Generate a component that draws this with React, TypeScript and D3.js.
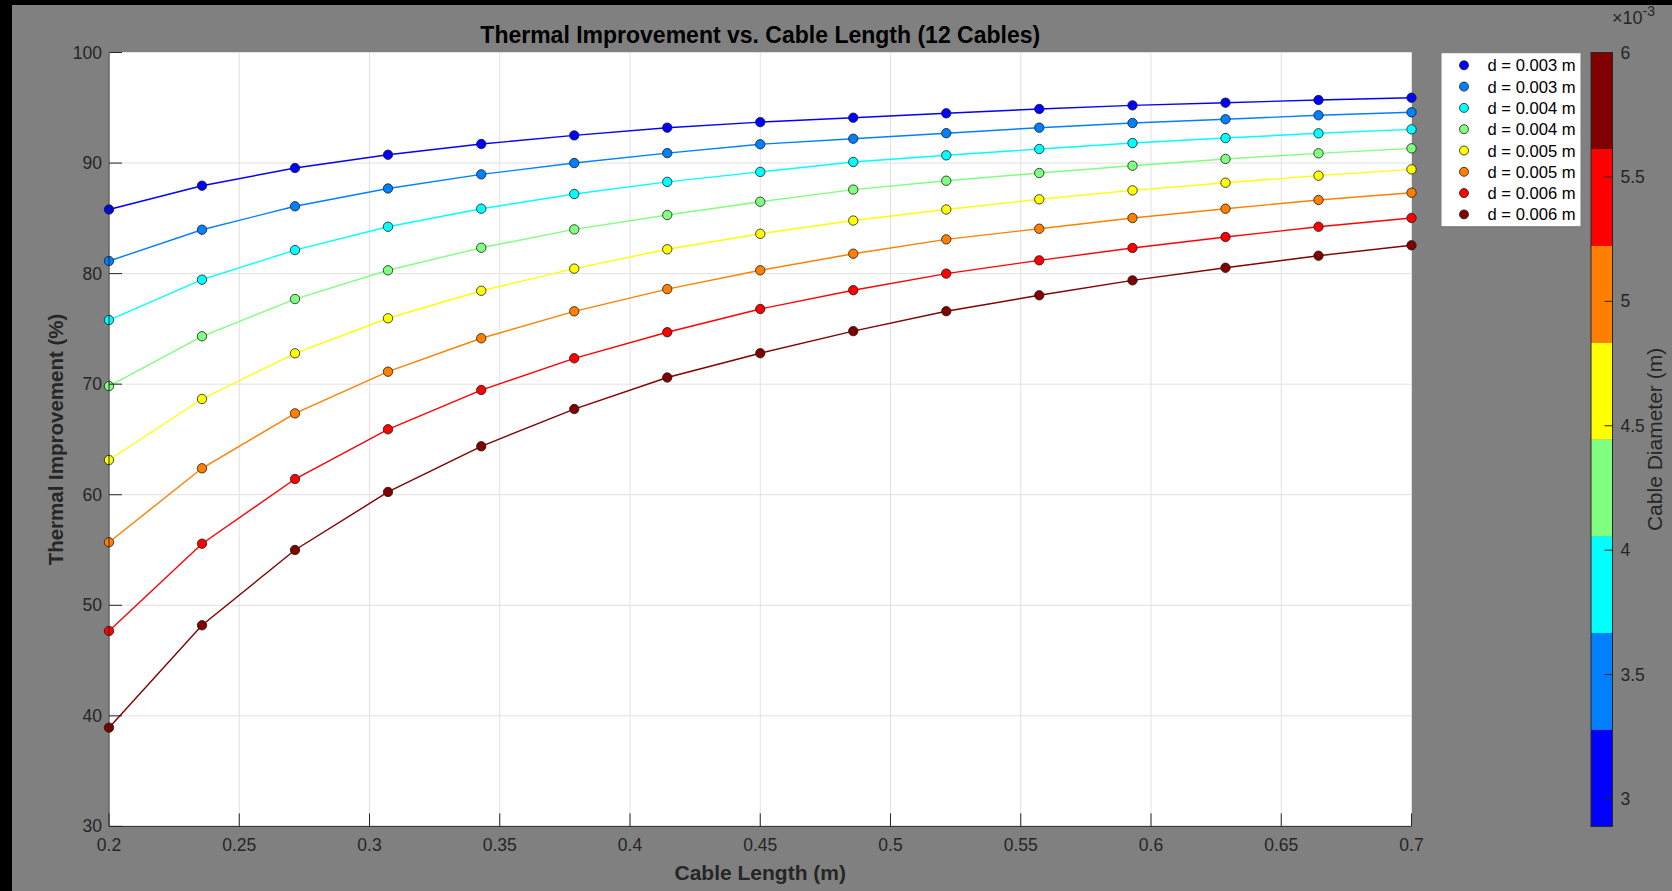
import React, { useEffect, useRef } from "react";
import * as d3 from "d3";

const W = 1672;
const H = 891;

// plot box
const PL = 109;
const PR = 1411.5;
const PT = 52.5;
const PB = 826.4;

const FONT = "'Liberation Sans', Arial, Helvetica, sans-serif";
const INK = "#262626";

// ── Data ────────────────────────────────────────────────────────────────
const cableLengths = [0.2, 0.2357, 0.2714, 0.3071, 0.3429, 0.3786, 0.4143, 0.45, 0.4857, 0.5214, 0.5571, 0.5929, 0.6286, 0.6643, 0.7];

const d003a = [85.8, 87.95, 89.55, 90.75, 91.72, 92.5, 93.2, 93.7, 94.1, 94.5, 94.89, 95.22, 95.46, 95.7, 95.91];
const d003b = [81.14, 83.97, 86.09, 87.7, 88.98, 90.0, 90.9, 91.7, 92.2, 92.7, 93.2, 93.62, 93.96, 94.32, 94.59];
const d004a = [75.8, 79.45, 82.13, 84.24, 85.87, 87.2, 88.3, 89.2, 90.1, 90.7, 91.27, 91.81, 92.26, 92.69, 93.05];
const d004b = [69.83, 74.33, 77.7, 80.3, 82.34, 84.0, 85.3, 86.5, 87.6, 88.4, 89.1, 89.76, 90.37, 90.88, 91.33];
const d005a = [63.14, 68.66, 72.79, 75.96, 78.45, 80.45, 82.2, 83.6, 84.8, 85.8, 86.72, 87.53, 88.22, 88.86, 89.43];
const d005b = [55.7, 62.39, 67.36, 71.13, 74.15, 76.59, 78.6, 80.3, 81.8, 83.1, 84.06, 85.03, 85.87, 86.66, 87.32];
const d006a = [47.67, 55.57, 61.42, 65.92, 69.47, 72.34, 74.7, 76.8, 78.5, 80.0, 81.2, 82.32, 83.31, 84.24, 85.03];
const d006b = [38.93, 48.19, 55.0, 60.25, 64.38, 67.75, 70.6, 72.8, 74.8, 76.6, 78.04, 79.39, 80.53, 81.62, 82.56];

const seriesValues = [d003a, d003b, d004a, d004b, d005a, d005b, d006a, d006b];
const seriesLabels = ["d = 0.003 m", "d = 0.003 m", "d = 0.004 m", "d = 0.004 m", "d = 0.005 m", "d = 0.005 m", "d = 0.006 m", "d = 0.006 m"];
const seriesColors = ["#0000ff", "#0080ff", "#00ffff", "#80ff80", "#ffff00", "#ff8000", "#ff0000", "#800000"];

const xTicks = [0.2, 0.25, 0.3, 0.35, 0.4, 0.45, 0.5, 0.55, 0.6, 0.65, 0.7];
const yTicks = [30, 40, 50, 60, 70, 80, 90, 100];
const cbDomain = [2.89, 6.0]; // ×10^-3 m
const cbTicks = [3, 3.5, 4, 4.5, 5, 5.5, 6];

const App = () => {
    const svgRef = useRef<SVGSVGElement>(null);

    useEffect(() => {
        if (!svgRef.current) return;
        const svg = d3.select(svgRef.current);
        svg.selectAll("*").remove();

        // ── Figure background ────────────────────────────────────────────
        svg.append("rect").attr("width", W).attr("height", H).attr("fill", "#808080");
        svg.append("rect").attr("width", W).attr("height", 5).attr("fill", "#000");
        svg.append("rect").attr("width", 12).attr("height", H).attr("fill", "#000");

        const x = d3.scaleLinear().domain([0.2, 0.7]).range([PL, PR]);
        const y = d3.scaleLinear().domain([30, 100]).range([PB, PT]);

        // ── Axes area + grid ─────────────────────────────────────────────
        svg.append("rect")
            .attr("x", PL).attr("y", PT)
            .attr("width", PR - PL).attr("height", PB - PT)
            .attr("fill", "#fff");

        const grid = svg.append("g");
        xTicks.forEach(t => {
            grid.append("line")
                .attr("x1", x(t)).attr("x2", x(t)).attr("y1", PT).attr("y2", PB)
                .attr("stroke", "#e1e1e1").attr("stroke-width", 1);
        });
        yTicks.forEach(t => {
            grid.append("line")
                .attr("x1", PL).attr("x2", PR).attr("y1", y(t)).attr("y2", y(t))
                .attr("stroke", "#e1e1e1").attr("stroke-width", 1);
        });

        // ── Series ───────────────────────────────────────────────────────
        const line = d3.line<number>()
            .x((_, i) => x(cableLengths[i]))
            .y(v => y(v));

        seriesValues.forEach((vals, s) => {
            svg.append("path")
                .attr("d", line(vals))
                .attr("fill", "none")
                .attr("stroke", seriesColors[s])
                .attr("stroke-width", 1.4);
        });
        seriesValues.forEach((vals, s) => {
            vals.forEach((v, i) => {
                svg.append("circle")
                    .attr("cx", x(cableLengths[i])).attr("cy", y(v))
                    .attr("r", 4.7)
                    .attr("fill", seriesColors[s])
                    .attr("stroke", "#1a1a1a")
                    .attr("stroke-width", 0.8);
            });
        });

        // ── Axis lines, ticks, labels ────────────────────────────────────
        const ax = svg.append("g");
        ax.append("line").attr("x1", PL).attr("x2", PL).attr("y1", PT).attr("y2", PB)
            .attr("stroke", INK).attr("stroke-width", 1);
        ax.append("line").attr("x1", PL).attr("x2", PR).attr("y1", PB).attr("y2", PB)
            .attr("stroke", INK).attr("stroke-width", 1);

        xTicks.forEach(t => {
            ax.append("line")
                .attr("x1", x(t)).attr("x2", x(t)).attr("y1", PB).attr("y2", PB - 13)
                .attr("stroke", INK);
            ax.append("text")
                .attr("x", x(t)).attr("y", PB + 25)
                .attr("text-anchor", "middle")
                .attr("font-family", FONT).attr("font-size", "17.5px")
                .attr("fill", INK)
                .text(d3.format("")(t));
        });
        yTicks.forEach(t => {
            ax.append("line")
                .attr("x1", PL).attr("x2", PL + 13).attr("y1", y(t)).attr("y2", y(t))
                .attr("stroke", INK);
            ax.append("text")
                .attr("x", PL - 7).attr("y", y(t) + 6)
                .attr("text-anchor", "end")
                .attr("font-family", FONT).attr("font-size", "17.5px")
                .attr("fill", INK)
                .text(t);
        });

        svg.append("text")
            .attr("x", (PL + PR) / 2).attr("y", 43)
            .attr("text-anchor", "middle")
            .attr("font-family", FONT).attr("font-size", "23px").attr("font-weight", "700")
            .attr("fill", "#000")
            .text("Thermal Improvement vs. Cable Length (12 Cables)");

        svg.append("text")
            .attr("x", (PL + PR) / 2).attr("y", 880)
            .attr("text-anchor", "middle")
            .attr("font-family", FONT).attr("font-size", "21px").attr("font-weight", "700")
            .attr("fill", INK)
            .text("Cable Length (m)");

        svg.append("text")
            .attr("transform", `translate(63,${(PT + PB) / 2}) rotate(-90)`)
            .attr("text-anchor", "middle")
            .attr("font-family", FONT).attr("font-size", "20.5px").attr("font-weight", "700")
            .attr("fill", INK)
            .text("Thermal Improvement (%)");

        // ── Legend ───────────────────────────────────────────────────────
        const lg = svg.append("g");
        lg.append("rect")
            .attr("x", 1441).attr("y", 52.7)
            .attr("width", 140).attr("height", 174)
            .attr("fill", "#fff").attr("stroke", "#7a7a7a").attr("stroke-width", 1);
        seriesLabels.forEach((label, i) => {
            const ry = 65.3 + i * 21.3;
            lg.append("circle")
                .attr("cx", 1464).attr("cy", ry).attr("r", 4.5)
                .attr("fill", seriesColors[i])
                .attr("stroke", "#1a1a1a").attr("stroke-width", 0.8);
            lg.append("text")
                .attr("x", 1487.5).attr("y", ry + 6)
                .attr("font-family", FONT).attr("font-size", "16.6px")
                .attr("fill", "#000")
                .text(label);
        });

        // ── Colorbar ─────────────────────────────────────────────────────
        const CBL = 1591;
        const CBR = 1612.5;
        const cy = d3.scaleLinear().domain(cbDomain).range([PB, PT]);
        const quant = d3.scaleQuantize<string>().domain(cbDomain).range(seriesColors);
        const cb = svg.append("g");
        seriesColors.forEach(c => {
            const [lo, hi] = quant.invertExtent(c);
            cb.append("rect")
                .attr("x", CBL).attr("y", cy(hi))
                .attr("width", CBR - CBL).attr("height", cy(lo) - cy(hi))
                .attr("fill", c);
        });
        cb.append("rect")
            .attr("x", CBL).attr("y", PT)
            .attr("width", CBR - CBL).attr("height", PB - PT)
            .attr("fill", "none").attr("stroke", INK).attr("stroke-width", 1);
        cbTicks.forEach(t => {
            cb.append("line")
                .attr("x1", CBR - 8).attr("x2", CBR).attr("y1", cy(t)).attr("y2", cy(t))
                .attr("stroke", INK);
            cb.append("text")
                .attr("x", CBR + 8).attr("y", cy(t) + 6)
                .attr("font-family", FONT).attr("font-size", "17.5px")
                .attr("fill", INK)
                .text(t);
        });
        const exp = cb.append("text")
            .attr("x", 1612).attr("y", 24)
            .attr("font-family", FONT).attr("font-size", "18px")
            .attr("fill", INK);
        exp.append("tspan").text("×10");
        exp.append("tspan").attr("dy", -8).attr("font-size", "14px").text("-3");

        svg.append("text")
            .attr("transform", `translate(1662,${(PT + PB) / 2}) rotate(-90)`)
            .attr("text-anchor", "middle")
            .attr("font-family", FONT).attr("font-size", "21px")
            .attr("fill", INK)
            .text("Cable Diameter (m)");
    }, []);

    return (
        <>
            <style>{`body{margin:0;overflow:hidden}`}</style>
            <svg ref={svgRef} width={W} height={H} style={{ display: "block" }} />
        </>
    );
};

export default App;
